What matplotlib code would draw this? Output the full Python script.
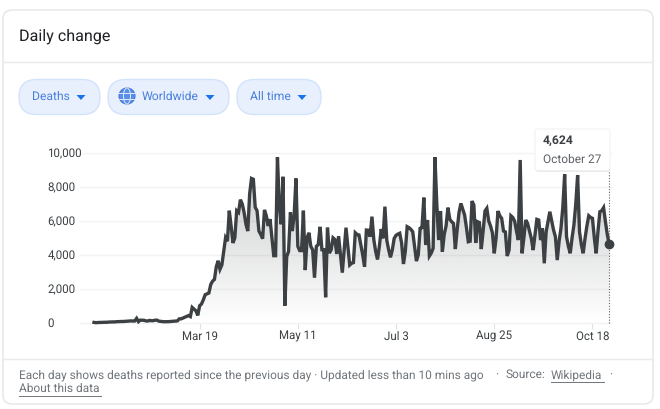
import numpy as np
import matplotlib
matplotlib.use("Agg")
import matplotlib.pyplot as plt
from matplotlib.patches import FancyBboxPatch, Polygon, Circle, Ellipse

plt.rcParams['font.family'] = ['Roboto', 'DejaVu Sans']
plt.rcParams['text.hinting'] = 'no_hinting'

# daily deaths (one step per reported day, up to Oct 27)
early = [17, 1, 8, 16, 15, 24, 26, 26, 38, 43, 46, 45, 58, 64, 66, 72, 70, 85, 87, 100,
         107, 97, 100, 254, 60, 150, 143, 142, 106, 98, 136, 116, 119, 150, 150, 90, 80, 65, 55, 62,
         60, 70, 75, 85, 95, 105, 225, 225, 275, 330, 370, 420, 360, 900, 800, 700, 430]
spring = [1000, 1100, 1350, 1650, 1700, 1750, 2250, 2450, 2550, 3300, 3650, 3150, 3400, 4200, 5000, 4800,
          6600, 5700, 4700, 5000, 6600, 6500, 7250, 7000, 6500, 5800, 5400, 7600, 8500, 8450, 6800, 6600,
          5400, 5200, 4950, 6650, 6300, 5700, 6100, 5000, 3950, 3950, 9750, 6900, 5800, 8600, 1000, 3900,
          4200, 6500, 5400, 6300, 8500, 4500, 4250, 4250, 6600, 3100, 5000, 5300, 4500, 4300, 2650, 4500,
          4600, 5650, 4300, 4300, 1500, 5600, 4100, 4300, 5000, 4900, 4050, 5100]
summer = [4000, 2950, 4300, 5600, 4500, 3400, 3500, 3540, 5300, 5200, 5170, 4600, 4000, 3300, 5460, 5450,
          5070, 6250, 4900, 4200, 3730, 4500, 5520, 4970, 6840, 4870, 4300, 3850, 4300, 4970, 5150, 5220, 5270,
          4700, 3460, 4200, 5660, 5600, 5500, 5360, 4500, 3630, 4000, 5560, 5600, 7370, 4580, 6050, 3930,
          4100, 4380, 9750, 7000, 4870, 6580, 4180, 5200, 5700, 6780, 6100, 5950, 5850, 4340, 5500, 6500,
          7030, 6700, 6350, 5600, 4770, 4800, 7170, 6930, 4700, 5950, 5900]
autumn = [4340, 5400, 6580, 6740, 6000, 5700, 5300, 4090, 5000, 6580, 6300, 6150, 5400, 5350, 3930, 4280,
          6300, 6200, 5990, 5400, 4870, 9590, 4090, 5000, 6050, 5850, 5400, 4970, 4280, 5200, 6090, 6050,
          4870, 5560, 3500, 5360, 5950, 6540, 6000, 5460, 5070, 3690, 4800, 5560, 6800, 8740, 5070, 4500,
          4090, 5000, 5760, 7000, 8700, 5360, 4600, 4090, 4970, 5700, 6300, 6200, 6150, 5000, 4090, 5400,
          6540, 6600, 6780, 5950, 5200, 4624]
deaths = early + spring + summer + autumn

x_ticks = [57, 110, 163, 216, 269]
x_labels = ["Mar 19", "May 11", "Jul 3", "Aug 25", "Oct 18"]
y_ticks = [0, 2000, 4000, 6000, 8000, 10000]
y_labels = ["0", "2,000", "4,000", "6,000", "8,000", "10,000"]

W, H = 660, 409
LINE = "#3c4043"
GRID = "#f1f3f4"
BORDER = "#e3e5e8"
BLUE = "#4a7fdc"

fig = plt.figure(figsize=(W / 100, H / 100), dpi=100, facecolor="white")

# chart axes, placed in pixels
left, right, bottom, top = 80, 610.5, 322.7, 153
ax = fig.add_axes([left / W, 1 - bottom / H, (right - left) / W, (bottom - top) / H])
per_day = 1.853
ax.set_xlim((left - 94) / per_day, (right - 94) / per_day)
ax.set_ylim(0, 10000)
for s in ax.spines.values():
    s.set_visible(False)

xs = np.arange(len(deaths))
ax.set_xticks(x_ticks, x_labels)
ax.set_yticks(y_ticks, y_labels)
ax.tick_params(axis="x", length=4.5, width=0.8, color="#e0e2e5", labelsize=8.3, labelcolor=LINE, pad=1.5)
ax.tick_params(axis="y", length=0, labelsize=8.3, labelcolor=LINE, pad=23.5)
for t in ax.get_yticklabels():
    t.set_ha("left")
for g in ax.yaxis.get_gridlines():
    g.set_clip_on(False)
ax.grid(axis="y", color=GRID, lw=1.0)
ax.set_axisbelow(True)

# gradient under the line
rgb = matplotlib.colors.to_rgb(LINE)
grad = np.zeros((256, 2, 4))
grad[..., :3] = rgb
grad[..., 3] = np.linspace(0.30, 0, 256)[:, None]
im = ax.imshow(grad, extent=[xs[0], xs[-1], 0, 10000], aspect="auto", origin="upper", zorder=1.5)
poly = Polygon(np.r_[[[xs[0], 0]], np.c_[xs, deaths], [[xs[-1], 0]]], transform=ax.transData, fc="none", ec="none")
ax.add_patch(poly)
im.set_clip_path(poly)
ax.set_xlim((left - 94) / per_day, (right - 94) / per_day)
ax.set_ylim(0, 10000)

ax.plot(xs, deaths, color=LINE, lw=2.4, solid_joinstyle="miter", clip_on=False, zorder=3)
ax.plot([xs[-1]], [deaths[-1]], "o", color=LINE, ms=6, clip_on=False, zorder=4)
ax.plot([xs[-1], xs[-1]], [0, 9000], color="#5f6368", lw=0.8, ls=(0, (1, 1.5)), clip_on=False, zorder=2)

# overlay in pixel coords for the card furniture
ov = fig.add_axes([0, 0, 1, 1], zorder=5)
ov.set_xlim(0, W)
ov.set_ylim(H, 0)
ov.axis("off")
ov.patch.set_alpha(0)

ov.add_patch(FancyBboxPatch((3, 10), 650, 394, boxstyle="round,pad=0,rounding_size=9", fc="none", ec=BORDER, lw=1))
ov.plot([3, 653], [62, 62], color="#e8eaed", lw=1)
ov.plot([3, 653], [359, 359], color="#e8eaed", lw=1)
ov.text(19, 36, "Daily change", fontsize=11.6, color="#202124", va="center", ha="left")


def chip(x0, x1, label, text_x, arrow_x):
    ov.add_patch(FancyBboxPatch((x0, 79.5), x1 - x0, 35, boxstyle="round,pad=0,rounding_size=17.5",
                                fc="#e8f0fe", ec="#d2e3fc", lw=1))
    ov.text(text_x, 97, label, fontsize=8.7, color=BLUE, va="center", ha="left")
    ov.add_patch(Polygon([[arrow_x - 4.5, 95], [arrow_x + 4.5, 95], [arrow_x, 100]], fc="#1a73e8", ec="none"))


chip(19, 100, "Deaths", 32, 81)
chip(108, 229, "Worldwide", 142, 210)
chip(237, 321, "All time", 250, 302)

# globe icon
ov.add_patch(Circle((127, 96), 8, fc="#5a8fe8", ec="#3f78dc", lw=0.8))
ov.add_patch(Ellipse((127, 96), 7, 16, fc="none", ec="#dfe9fb", lw=0.7))
ov.plot([119, 135], [93, 93], color="#dfe9fb", lw=0.7)
ov.plot([119, 135], [99, 99], color="#dfe9fb", lw=0.7)

# tooltip
ov.add_patch(FancyBboxPatch((536, 131), 74, 41, boxstyle="round,pad=0,rounding_size=2",
                            fc="#d8d9db", ec="none", alpha=0.5))
ov.add_patch(FancyBboxPatch((535, 129), 75, 41.5, boxstyle="round,pad=0,rounding_size=2",
                            fc="white", ec="#eceef0", lw=0.6))
ov.text(543, 141, "4,624", fontsize=8.7, fontweight="bold", color="#3c4043", va="center", ha="left")
ov.text(543, 159.5, "October 27", fontsize=8.6, color="#5f6368", va="center", ha="left")

# footer
FOOT = "#70757a"
ov.text(19, 375, "Each day shows deaths reported since the previous day · Updated less than 10 mins ago",
        fontsize=8.6, color=FOOT, va="center", ha="left")
ov.text(497, 375, "·", fontsize=8.6, color=FOOT, va="center", ha="center")
ov.text(506, 375, "Source:", fontsize=8.6, color=FOOT, va="center", ha="left")
ov.text(551, 375, "Wikipedia", fontsize=8.6, color=FOOT, va="center", ha="left")
ov.text(611, 375, "·", fontsize=8.6, color=FOOT, va="center", ha="center")
ov.text(19, 389, "About this data", fontsize=8.6, color=FOOT, va="center", ha="left")
ov.plot([551, 604], [381.5, 381.5], color=FOOT, lw=0.7)
ov.plot([19, 101], [395.5, 395.5], color=FOOT, lw=0.7)

fig.savefig("out.png", dpi=100)
